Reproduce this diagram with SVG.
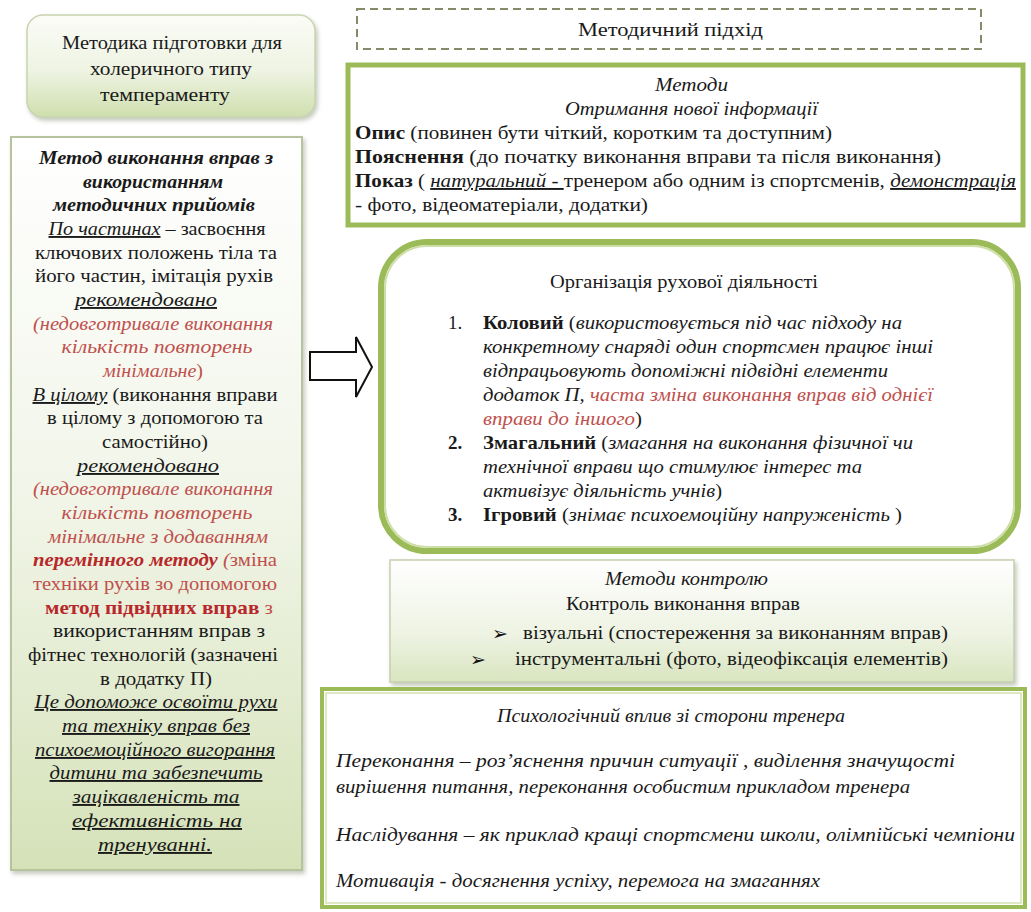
<svg xmlns="http://www.w3.org/2000/svg" width="1031" height="912" viewBox="0 0 1031 912" font-family="'Liberation Serif', Tinos, 'DejaVu Serif', serif">
<defs>
<linearGradient id="gTop" x1="0" y1="0" x2="0" y2="1"><stop offset="0" stop-color="#fbfcf7"/><stop offset="0.55" stop-color="#eef3e2"/><stop offset="1" stop-color="#cfdfae"/></linearGradient>
<linearGradient id="gLeft" x1="0" y1="0" x2="0" y2="1"><stop offset="0" stop-color="#ffffff"/><stop offset="0.5" stop-color="#f1f5e8"/><stop offset="1" stop-color="#d5e2b8"/></linearGradient>
<linearGradient id="gCtl" x1="0" y1="0" x2="0" y2="1"><stop offset="0" stop-color="#ffffff"/><stop offset="0.6" stop-color="#eef3e3"/><stop offset="1" stop-color="#d9e5c0"/></linearGradient>
<filter id="sh" x="-5%" y="-5%" width="112%" height="112%"><feDropShadow dx="2" dy="3" stdDeviation="2" flood-color="#7f8a6a" flood-opacity="0.45"/></filter>
</defs>
<style>
text{font-family:'Liberation Serif',Tinos,'DejaVu Serif',serif;fill:#1a1a1a;}
.f18{font-size:18px;}
.f19{font-size:19px;}
.c{text-anchor:middle;}
.i{font-style:italic;}
.b{font-weight:bold;}
.u{text-decoration:underline;}
.r{fill:#c0504d;}
.dr{fill:#b8272a;}
text.bul{font-family:'DejaVu Sans',sans-serif;font-size:19px;fill:#111;}
</style>

<g id="node-title-left">
<rect x="27" y="15" width="288" height="102" rx="16" fill="url(#gTop)" stroke="#c9d4b0" stroke-width="1.5" filter="url(#sh)"/>
<text class="f19 c" x="172" y="49" textLength="220" lengthAdjust="spacingAndGlyphs">Методика підготовки для</text>
<text class="f19 c" x="171" y="75" textLength="162" lengthAdjust="spacingAndGlyphs">холеричного типу</text>
<text class="f19 c" x="165" y="101" textLength="130" lengthAdjust="spacingAndGlyphs">темпераменту</text>
</g>

<g id="node-left-method">
<rect x="11" y="137" width="291" height="733" fill="url(#gLeft)" stroke="#b7c39e" stroke-width="2" filter="url(#sh)"/>
<g class="f19">
<text class="c b i" x="156" y="164" textLength="234" lengthAdjust="spacingAndGlyphs">Метод виконання вправ з</text>
<text class="c b i" x="153" y="188" textLength="140" lengthAdjust="spacingAndGlyphs">використанням</text>
<text class="c b i" x="154" y="211" textLength="202" lengthAdjust="spacingAndGlyphs">методичних прийомів</text>
<text class="c" x="157" y="235" textLength="217" lengthAdjust="spacingAndGlyphs"><tspan class="i u">По частинах</tspan> – засвоєння</text>
<text class="c" x="156" y="259" textLength="242" lengthAdjust="spacingAndGlyphs">ключових положень тіла та</text>
<text class="c" x="154" y="282" textLength="238" lengthAdjust="spacingAndGlyphs">його частин, імітація рухів</text>
<text class="c i u" x="146" y="306" textLength="142" lengthAdjust="spacingAndGlyphs">рекомендовано</text>
<text class="c i r" x="153" y="330" textLength="240" lengthAdjust="spacingAndGlyphs">(недовготривале виконання</text>
<text class="c i r" x="157" y="353" textLength="191" lengthAdjust="spacingAndGlyphs">кількість повторень</text>
<text class="c r" x="153" y="377" textLength="100" lengthAdjust="spacingAndGlyphs"><tspan class="i r">мінімальне</tspan>)</text>
<text class="c" x="155" y="401" textLength="245" lengthAdjust="spacingAndGlyphs"><tspan class="i u">В цілому</tspan> (виконання вправи</text>
<text class="c" x="155" y="424" textLength="216" lengthAdjust="spacingAndGlyphs">в цілому з допомогою та</text>
<text class="c" x="155" y="448" textLength="106" lengthAdjust="spacingAndGlyphs">самостійно)</text>
<text class="c i u" x="148" y="472" textLength="142" lengthAdjust="spacingAndGlyphs">рекомендовано</text>
<text class="c i r" x="153" y="495" textLength="240" lengthAdjust="spacingAndGlyphs">(недовготривале виконання</text>
<text class="c i r" x="157" y="519" textLength="191" lengthAdjust="spacingAndGlyphs">кількість повторень</text>
<text class="c i r" x="158" y="543" textLength="220" lengthAdjust="spacingAndGlyphs">мінімальне з додаванням</text>
<text class="c r" x="155" y="566" textLength="244" lengthAdjust="spacingAndGlyphs"><tspan class="b i dr">перемінного методу</tspan><tspan class="i r"> (</tspan>зміна</text>
<text class="c r" x="155" y="590" textLength="244" lengthAdjust="spacingAndGlyphs">техніки рухів зо допомогою</text>
<text class="c r" x="159" y="614" textLength="228" lengthAdjust="spacingAndGlyphs"><tspan class="b dr">метод підвідних вправ</tspan> з</text>
<text class="c" x="159" y="637" textLength="212" lengthAdjust="spacingAndGlyphs">використанням вправ з</text>
<text class="c" x="153" y="661" textLength="250" lengthAdjust="spacingAndGlyphs">фітнес технологій (зазначені</text>
<text class="c" x="156" y="685" textLength="112" lengthAdjust="spacingAndGlyphs">в додатку П)</text>
<text class="c i u" x="156" y="708" textLength="243" lengthAdjust="spacingAndGlyphs">Це допоможе освоїти рухи</text>
<text class="c i u" x="156" y="732" textLength="188" lengthAdjust="spacingAndGlyphs">та техніку вправ без</text>
<text class="c i u" x="155" y="756" textLength="240" lengthAdjust="spacingAndGlyphs">психоемоційного вигорання</text>
<text class="c i u" x="156" y="779" textLength="213" lengthAdjust="spacingAndGlyphs">дитини та забезпечить</text>
<text class="c i u" x="156" y="803" textLength="167" lengthAdjust="spacingAndGlyphs">зацікавленість та</text>
<text class="c i u" x="157" y="827" textLength="170" lengthAdjust="spacingAndGlyphs">ефективність на</text>
<text class="c i u" x="155" y="851" textLength="114" lengthAdjust="spacingAndGlyphs">тренуванні.</text>
</g>
</g>

<g id="connectors">
<path d="M310,352 H356 V337 L372,367 L356,397 V380 H310 Z" fill="#ffffff" stroke="#111111" stroke-width="2"/>
</g>

<g id="node-approach">
<rect x="357" y="9" width="624" height="40" fill="#ffffff" stroke="#858a68" stroke-width="2" stroke-dasharray="8,5"/>
<text class="f19" x="578" y="36" textLength="185" lengthAdjust="spacingAndGlyphs">Методичний підхід</text>
</g>

<g id="node-methods">
<rect x="348" y="65" width="675" height="160" fill="#ffffff" stroke="#9bbb59" stroke-width="5"/>
<g class="f19">
<text class="i" x="655" y="91" textLength="73" lengthAdjust="spacingAndGlyphs">Методи</text>
<text class="i" x="565" y="115" textLength="253" lengthAdjust="spacingAndGlyphs">Отримання нової інформації</text>
<text x="355" y="139" textLength="477" lengthAdjust="spacingAndGlyphs"><tspan class="b">Опис</tspan> (повинен бути чіткий, коротким та доступним)</text>
<text x="355" y="163" textLength="586" lengthAdjust="spacingAndGlyphs"><tspan class="b">Пояснення</tspan> (до початку виконання вправи та після виконання)</text>
<text x="355" y="187" textLength="661" lengthAdjust="spacingAndGlyphs"><tspan class="b">Показ</tspan> ( <tspan class="i u">натуральний - </tspan>тренером або одним із спортсменів, <tspan class="i u">демонстрація</tspan></text>
<text x="355" y="211" textLength="293" lengthAdjust="spacingAndGlyphs">- фото, відеоматеріали, додатки)</text>
</g>
</g>

<g id="node-organization">
<rect x="381" y="242" width="637" height="309" rx="46" fill="#ffffff" stroke="#9bbb59" stroke-width="6"/>
<rect x="385" y="246" width="629" height="301" rx="42" fill="none" stroke="#cddfa6" stroke-width="2"/>
<g class="f19">
<text x="550" y="288" textLength="268" lengthAdjust="spacingAndGlyphs">Організація рухової діяльності</text>
<text x="448" y="329">1.</text>
<text x="483" y="329" textLength="419" lengthAdjust="spacingAndGlyphs"><tspan class="b">Коловий</tspan> (<tspan class="i">використовується під час підходу на</tspan></text>
<text class="i" x="483" y="353" textLength="450" lengthAdjust="spacingAndGlyphs">конкретному снаряді один спортсмен працює інші</text>
<text class="i" x="483" y="377" textLength="405" lengthAdjust="spacingAndGlyphs">відпрацьовують допоміжні підвідні елементи</text>
<text class="i" x="483" y="401" textLength="450" lengthAdjust="spacingAndGlyphs">додаток П, <tspan class="r">часта зміна виконання вправ від однієї</tspan></text>
<text x="483" y="425" textLength="159" lengthAdjust="spacingAndGlyphs"><tspan class="i r">вправи до іншого</tspan>)</text>
<text class="b" x="448" y="449">2.</text>
<text x="483" y="449" textLength="430" lengthAdjust="spacingAndGlyphs"><tspan class="b">Змагальний</tspan> (<tspan class="i">змагання на виконання фізичної чи</tspan></text>
<text class="i" x="483" y="473" textLength="379" lengthAdjust="spacingAndGlyphs">технічної вправи що стимулює інтерес та</text>
<text x="483" y="497" textLength="239" lengthAdjust="spacingAndGlyphs"><tspan class="i">активізує діяльність учнів</tspan>)</text>
<text class="b" x="448" y="521">3.</text>
<text x="483" y="521" textLength="419" lengthAdjust="spacingAndGlyphs"><tspan class="b">Ігровий</tspan> (<tspan class="i">знімає психоемоційну напруженість</tspan> )</text>
</g>
</g>

<g id="node-control">
<rect x="390" y="560" width="624" height="122" fill="url(#gCtl)" stroke="#c5cfb0" stroke-width="1.5" filter="url(#sh)"/>
<g class="f19">
<text class="i" x="605" y="585" textLength="163" lengthAdjust="spacingAndGlyphs">Методи контролю</text>
<text x="566" y="610" textLength="234" lengthAdjust="spacingAndGlyphs">Контроль виконання вправ</text>
<text class="bul" x="492" y="640">➢</text>
<text x="523" y="639" textLength="425" lengthAdjust="spacingAndGlyphs">візуальні (спостереження за виконанням вправ)</text>
<text class="bul" x="470" y="666">➢</text>
<text x="515" y="665" textLength="433" lengthAdjust="spacingAndGlyphs">інструментальні (фото, відеофіксація елементів)</text>
</g>
</g>

<g id="node-psych">
<rect x="322" y="689" width="703" height="218" fill="#ffffff" stroke="#9bbb59" stroke-width="4"/>
<rect x="326" y="693" width="695" height="210" fill="none" stroke="#d3e2b0" stroke-width="1.5"/>
<g class="f19 i">
<text x="497" y="722" textLength="348" lengthAdjust="spacingAndGlyphs">Психологічний вплив зі сторони тренера</text>
<text x="336" y="767" textLength="619" lengthAdjust="spacingAndGlyphs">Переконання – роз’яснення причин ситуації , виділення значущості</text>
<text x="336" y="793" textLength="574" lengthAdjust="spacingAndGlyphs">вирішення питання, переконання особистим прикладом тренера</text>
<text x="336" y="841" textLength="679" lengthAdjust="spacingAndGlyphs">Наслідування – як приклад кращі  спортсмени школи, олімпійські чемпіони</text>
<text x="336" y="887" textLength="484" lengthAdjust="spacingAndGlyphs">Мотивація - досягнення успіху, перемога на  змаганнях</text>
</g>
</g>
</svg>
